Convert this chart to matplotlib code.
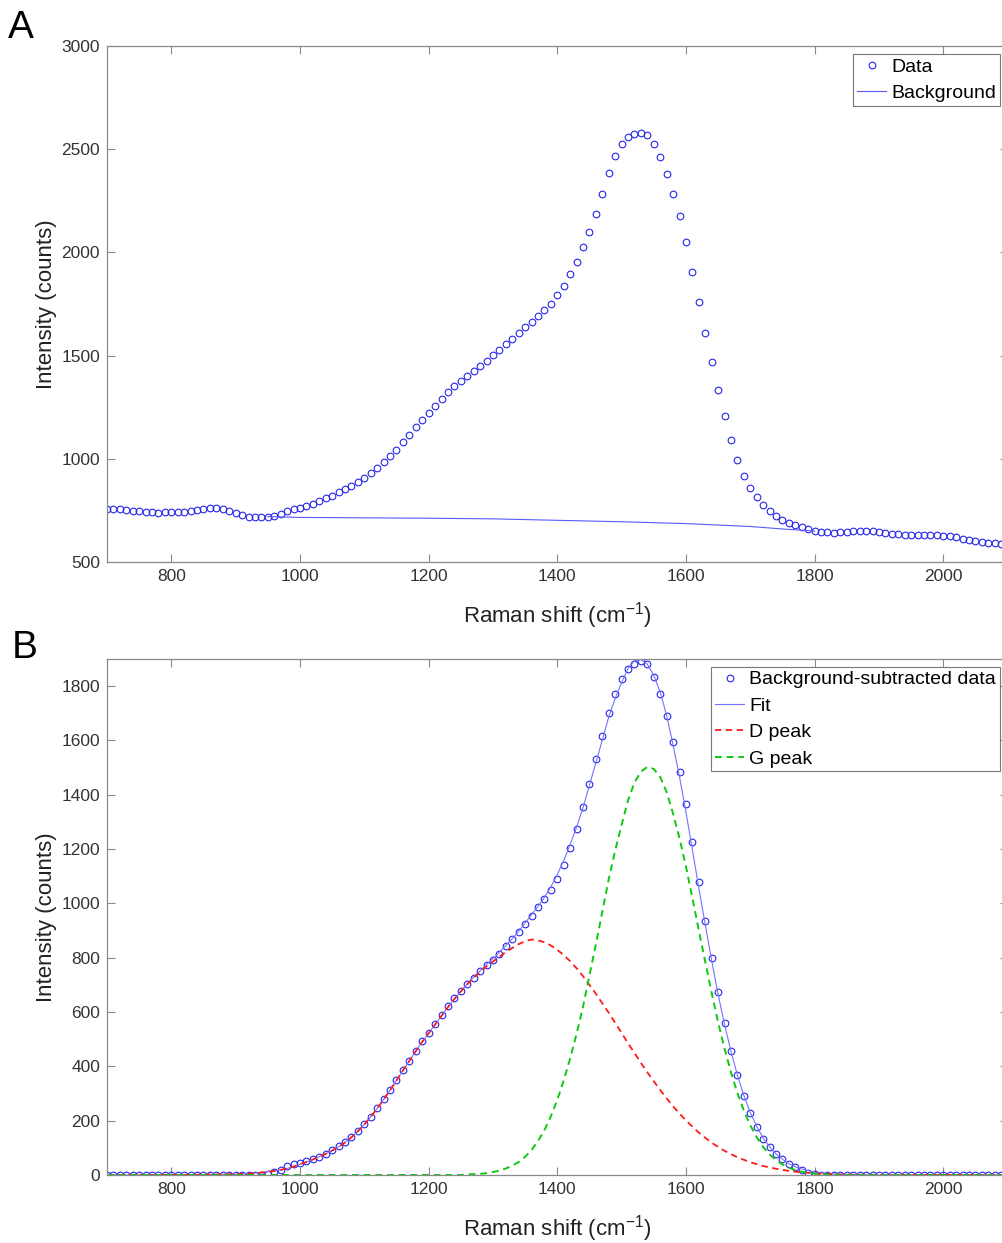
import matplotlib
matplotlib.use("Agg")
import matplotlib.pyplot as plt
import numpy as np

plt.rcParams["font.family"] = ["Liberation Sans", "DejaVu Sans"]
plt.rcParams["mathtext.fontset"] = "custom"
plt.rcParams["mathtext.rm"] = "Liberation Sans"

# Raman shift grid (cm^-1)
raman_shift = np.arange(700, 2101, 10)

# Panel A: raw spectrum (counts)
raw_counts = [
    757, 757, 755, 751, 748, 746, 744, 741, 739, 740,
    741, 742, 742, 745, 752, 758, 761, 762, 757, 748,
    737, 727, 719, 717, 718, 720, 724, 732, 745, 755,
    763, 772, 782, 794, 808, 822, 838, 854, 870, 888,
    908, 930, 956, 983, 1012, 1045, 1080, 1115, 1152, 1188,
    1222, 1258, 1292, 1323, 1352, 1378, 1402, 1426, 1450, 1476,
    1502, 1528, 1555, 1582, 1610, 1638, 1665, 1692, 1720, 1752,
    1792, 1838, 1893, 1955, 2025, 2100, 2185, 2285, 2385, 2468,
    2525, 2558, 2574, 2580, 2568, 2525, 2460, 2380, 2285, 2175,
    2050, 1905, 1760, 1610, 1470, 1335, 1205, 1090, 995, 915,
    860, 815, 778, 748, 722, 703, 688, 677, 668, 660,
    652, 646, 643, 642, 644, 647, 650, 652, 652, 649,
    645, 640, 636, 634, 632, 631, 631, 632, 631, 630,
    628, 625, 619, 613, 607, 602, 598, 594, 590, 587,
    585,
]

# background estimate under the peak
bg_shift = [950, 1000, 1100, 1200, 1300, 1400, 1500, 1600, 1700, 1750, 1800]
bg_counts = [720, 716, 714, 712, 709, 702, 695, 686, 672, 660, 650]

# Panel B: background-subtracted data (zero outside 950-1800)
sub_counts = [0] * 25 + [
    5, 10, 18, 32, 40, 44, 50, 58, 67, 78,
    91, 105, 121, 140, 162, 187, 215, 246, 280, 314,
    350, 386, 421, 458, 492, 524, 556, 590, 622, 652,
    678, 703, 727, 750, 772, 792, 815, 842, 868, 896,
    925, 955, 985, 1015, 1050, 1090, 1140, 1205, 1275, 1355,
    1440, 1530, 1615, 1700, 1770, 1825, 1862, 1880, 1892, 1880,
    1835, 1772, 1690, 1595, 1485, 1365, 1225, 1080, 935, 800,
    672, 558, 455, 368, 292, 228, 176, 134, 102, 78,
    58, 42, 29, 17, 8, 2,
] + [0] * 30

d_peak = [0] * 14 + [
    1, 1, 2, 2, 3, 3, 3, 4, 5, 7,
    9, 12, 15, 19, 24, 31, 40, 48, 57, 67,
    78, 90, 104, 120, 139, 161, 186, 214, 245, 278,
    312, 348, 385, 420, 456, 490, 522, 554, 586, 618,
    648, 676, 702, 726, 748, 768, 786, 804, 821, 836,
    850, 861, 867,
    864, 857, 845, 829, 810, 787, 761, 732, 700, 667,
    632, 597, 560, 523, 485, 449, 413, 378, 345, 313,
    282, 253, 226, 201, 178, 156, 137, 119, 103, 89,
    77, 65, 56, 47, 40, 33, 28, 23, 19, 15,
    12, 10, 8, 6, 5, 4, 3, 2, 2, 1,
    1, 1,
] + [0] * 22

g_peak = [0] * 56 + [
    2, 3, 4, 7, 11, 16, 24, 34, 48, 67,
    92, 125, 165, 216, 277, 348, 430, 520, 620, 735,
    850, 970, 1090, 1195, 1290, 1380, 1445, 1485, 1503, 1495,
    1465, 1410, 1330, 1240, 1135, 1020, 900, 785, 670, 562,
    465, 378, 302, 237, 183, 139, 103, 76, 55, 39,
    27, 18, 12, 8, 5, 3, 2, 1,
] + [0] * 27

fit_counts = np.array(d_peak) + np.array(g_peak)

W, H = 1003, 1243
fig = plt.figure(figsize=(W / 100, H / 100), dpi=100)
ax_w = 900.6 / W
ax_a = fig.add_axes([107 / W, (H - 562) / H, ax_w, 516 / H])
ax_b = fig.add_axes([107 / W, (H - 1175) / H, ax_w, 516 / H])

marker_kw = dict(linestyle="none", marker="o", markersize=4.8, markerfacecolor="none",
                 markeredgecolor=(0.15, 0.15, 0.92), markeredgewidth=0.8)

ax_a.plot(raman_shift, raw_counts, label="Data", **marker_kw)
ax_a.plot(bg_shift, bg_counts, color=(0.35, 0.35, 1.0), lw=0.8, label="Background")

ax_b.plot(raman_shift, sub_counts, label="Background-subtracted data", **marker_kw)
ax_b.plot(raman_shift, fit_counts, color=(0.45, 0.45, 1.0), lw=0.8, label="Fit")
ax_b.plot(raman_shift, d_peak, color="#ff1a1a", ls=(0, (3.5, 2.5)), lw=1.3, label="D peak")
ax_b.plot(raman_shift, g_peak, color="#10c810", ls=(0, (3.5, 2.5)), lw=1.4, label="G peak")

axis_grey = "#8a8a8a"
for ax in (ax_a, ax_b):
    ax.set_xlim(700, 2100)
    ax.set_xticks(range(800, 2001, 200))
    for sp in ax.spines.values():
        sp.set_color(axis_grey)
        sp.set_linewidth(0.9)
    ax.tick_params(direction="in", length=6, width=0.8, color=axis_grey,
                   labelcolor="#333333", labelsize=12.5, top=True, right=True)
    ax.tick_params(axis="x", pad=5)
    ax.tick_params(axis="y", pad=5)
    ax.set_xlabel("Raman shift (cm$^{-1}$)", fontsize=16, color="#222222")
    ax.xaxis.set_label_coords(450.3 / 900.6, -38 / 516)
    ax.set_ylabel("Intensity (counts)", fontsize=16, color="#222222")
    ax.yaxis.set_label_coords(-50 / 900.6, 0.5)

ax_a.set_ylim(500, 3000)
ax_a.set_yticks(range(500, 3001, 500))
ax_b.set_ylim(0, 1900)
ax_b.set_yticks(range(0, 1801, 200))

leg_kw = dict(loc="upper right", bbox_transform=fig.transFigure, borderaxespad=0,
              fontsize=14, frameon=True, fancybox=False, framealpha=1,
              edgecolor="#777777", borderpad=0.2, labelspacing=0.45,
              handlelength=1.5, handletextpad=0.25, numpoints=1)
leg_a = ax_a.legend(bbox_to_anchor=(1000 / W, 1 - 54 / H), **leg_kw)
leg_b = ax_b.legend(bbox_to_anchor=(1000 / W, 1 - 667 / H), **leg_kw)
for leg in (leg_a, leg_b):
    leg.get_frame().set_linewidth(0.8)

fig.text(8 / W, 1 - 38 / H, "A", fontsize=28, va="baseline", ha="left")
fig.text(12 / W, 1 - 658 / H, "B", fontsize=28, va="baseline", ha="left")

fig.savefig("out.png", dpi=100)
plt.close(fig)
